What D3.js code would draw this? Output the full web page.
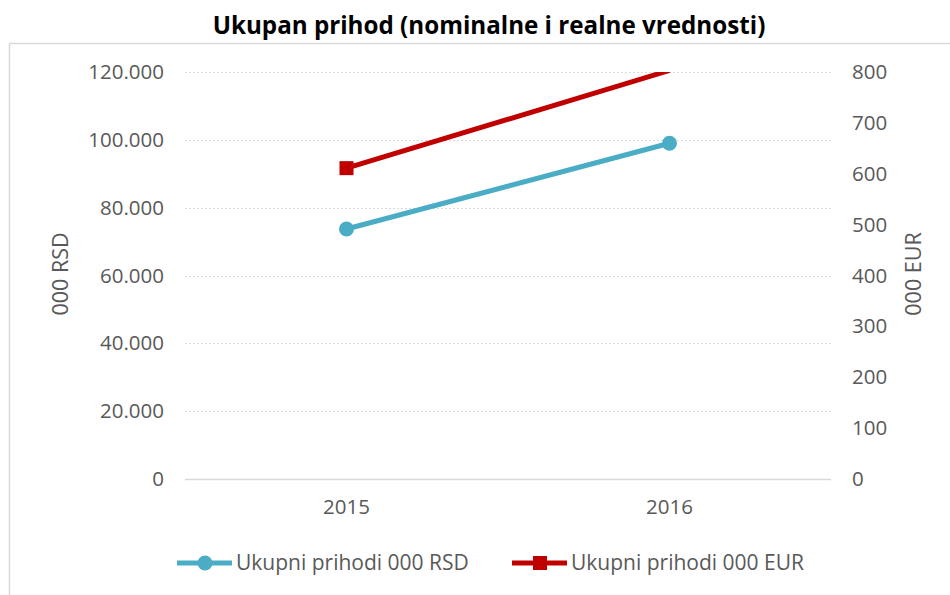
<!DOCTYPE html>
<html>
<head>
<meta charset="utf-8">
<script src="https://cdn.jsdelivr.net/npm/d3@7"></script>
<style>
  body { margin: 0; background: #fff; }
  svg { display: block; font-family: "Open Sans", sans-serif; }
</style>
</head>
<body>
<div id="chart"></div>
<script>
const years = ["2015", "2016"];
const rsdValues = [73700, 99000];
const eurValues = [611, 803];
const rsdTicks = [0, 20000, 40000, 60000, 80000, 100000, 120000];
const eurTicks = [0, 100, 200, 300, 400, 500, 600, 700, 800];
const seriesNames = ["Ukupni prihodi 000 RSD", "Ukupni prihodi 000 EUR"];

const TEXT_COLOR = "#595959";
const GRID_COLOR = "#D9D9D9";
const TEAL = "#4BACC6";
const RED = "#C00000";
const TICK_FONT = "20.5px";

const width = 950;
const height = 595;
const margin = { top: 72, right: 119, bottom: 116, left: 185 };

const sr = d3.formatLocale({ decimal: ",", thousands: ".", grouping: [3], currency: ["", ""] });
const fmt = sr.format(",");

const svg = d3.select("#chart")
  .append("svg")
  .attr("width", width)
  .attr("height", height);

// outer chart frame (cropped on the right and bottom)
svg.append("rect")
  .attr("x", 9.5)
  .attr("y", 43.5)
  .attr("width", 970)
  .attr("height", 600)
  .attr("fill", "none")
  .attr("stroke", GRID_COLOR)
  .attr("stroke-width", 1.5);

const x = d3.scaleBand()
  .domain(years)
  .range([margin.left, width - margin.right]);

const yLeft = d3.scaleLinear()
  .domain([0, 120000])
  .range([height - margin.bottom, margin.top]);

const yRight = d3.scaleLinear()
  .domain([0, 800])
  .range([height - margin.bottom, margin.top]);

// title
svg.append("text")
  .attr("x", 489)
  .attr("y", 34)
  .attr("text-anchor", "middle")
  .style("font-size", "24.2px")
  .style("font-weight", "bold")
  .attr("fill", "#000")
  .text("Ukupan prihod (nominalne i realne vrednosti)");

// gridlines
svg.append("g")
  .selectAll("line")
  .data(rsdTicks)
  .enter()
  .append("line")
  .attr("x1", x.range()[0])
  .attr("x2", x.range()[1])
  .attr("y1", d => Math.round(yLeft(d)) + 0.5)
  .attr("y2", d => Math.round(yLeft(d)) + 0.5)
  .attr("stroke", GRID_COLOR)
  .attr("stroke-width", d => d === 0 ? 1.5 : 1.2)
  .attr("stroke-dasharray", d => d === 0 ? null : "2,2");

// left axis
const leftAxis = svg.append("g")
  .attr("transform", `translate(${margin.left},0)`)
  .call(d3.axisLeft(yLeft).tickValues(rsdTicks).tickFormat(fmt).tickSize(0).tickPadding(21));
leftAxis.select(".domain").remove();
leftAxis.selectAll("text")
  .style("font-size", TICK_FONT)
  .style("font-family", "'Open Sans', sans-serif")
  .attr("fill", TEXT_COLOR);

// right axis
const rightAxis = svg.append("g")
  .attr("transform", `translate(${x.range()[1]},0)`)
  .call(d3.axisRight(yRight).tickValues(eurTicks).tickSize(0).tickPadding(21));
rightAxis.select(".domain").remove();
rightAxis.selectAll("text")
  .style("font-size", TICK_FONT)
  .style("font-family", "'Open Sans', sans-serif")
  .attr("fill", TEXT_COLOR);

// x axis
const xAxis = svg.append("g")
  .attr("transform", `translate(0,${height - margin.bottom})`)
  .call(d3.axisBottom(x).tickSize(0).tickPadding(20));
xAxis.select(".domain").remove();
xAxis.selectAll("text")
  .style("font-size", TICK_FONT)
  .style("font-family", "'Open Sans', sans-serif")
  .attr("fill", TEXT_COLOR);

// axis titles
svg.append("text")
  .attr("transform", "translate(68,274) rotate(-90)")
  .attr("text-anchor", "middle")
  .style("font-size", "21.5px")
  .attr("fill", TEXT_COLOR)
  .text("000 RSD");

svg.append("text")
  .attr("transform", "translate(921,274) rotate(-90)")
  .attr("text-anchor", "middle")
  .style("font-size", "21.5px")
  .attr("fill", TEXT_COLOR)
  .text("000 EUR");

// clip to plot area
svg.append("clipPath")
  .attr("id", "plot-clip")
  .append("rect")
  .attr("x", x.range()[0])
  .attr("y", margin.top)
  .attr("width", x.range()[1] - x.range()[0])
  .attr("height", height - margin.bottom - margin.top);

const cx = d => x(d) + x.bandwidth() / 2;

const plot = svg.append("g").attr("clip-path", "url(#plot-clip)");

const rsdData = years.map((yr, i) => ({ year: yr, value: rsdValues[i] }));
const eurData = years.map((yr, i) => ({ year: yr, value: eurValues[i] }));

plot.append("path")
  .datum(rsdData)
  .attr("fill", "none")
  .attr("stroke", TEAL)
  .attr("stroke-width", 5)
  .attr("d", d3.line().x(d => cx(d.year)).y(d => yLeft(d.value)));

plot.selectAll(".rsd-dot")
  .data(rsdData)
  .enter()
  .append("circle")
  .attr("class", "rsd-dot")
  .attr("cx", d => cx(d.year))
  .attr("cy", d => yLeft(d.value))
  .attr("r", 7.5)
  .attr("fill", TEAL);

plot.append("path")
  .datum(eurData)
  .attr("fill", "none")
  .attr("stroke", RED)
  .attr("stroke-width", 5)
  .attr("d", d3.line().x(d => cx(d.year)).y(d => yRight(d.value)));

// markers beyond the axis maximum are not drawn
plot.selectAll(".eur-dot")
  .data(eurData.filter(d => d.value <= yRight.domain()[1]))
  .enter()
  .append("rect")
  .attr("class", "eur-dot")
  .attr("x", d => cx(d.year) - 7)
  .attr("y", d => yRight(d.value) - 7)
  .attr("width", 14)
  .attr("height", 14)
  .attr("fill", RED);

// legend
const legend = svg.append("g").attr("transform", "translate(0,563)");
const legendItems = [
  { name: seriesNames[0], color: TEAL, shape: "circle", x0: 177 },
  { name: seriesNames[1], color: RED, shape: "square", x0: 512 }
];

const items = legend.selectAll("g")
  .data(legendItems)
  .enter()
  .append("g")
  .attr("transform", d => `translate(${d.x0},0)`);

items.append("line")
  .attr("x1", 0)
  .attr("x2", 55)
  .attr("stroke", d => d.color)
  .attr("stroke-width", 5);

items.each(function(d) {
  const g = d3.select(this);
  if (d.shape === "circle") {
    g.append("circle").attr("cx", 28).attr("r", 7.5).attr("fill", d.color);
  } else {
    g.append("rect").attr("x", 21).attr("y", -7).attr("width", 14).attr("height", 14).attr("fill", d.color);
  }
});

items.append("text")
  .attr("x", 59)
  .attr("dy", "0.35em")
  .style("font-size", "21px")
  .attr("fill", TEXT_COLOR)
  .text(d => d.name);
</script>
</body>
</html>
